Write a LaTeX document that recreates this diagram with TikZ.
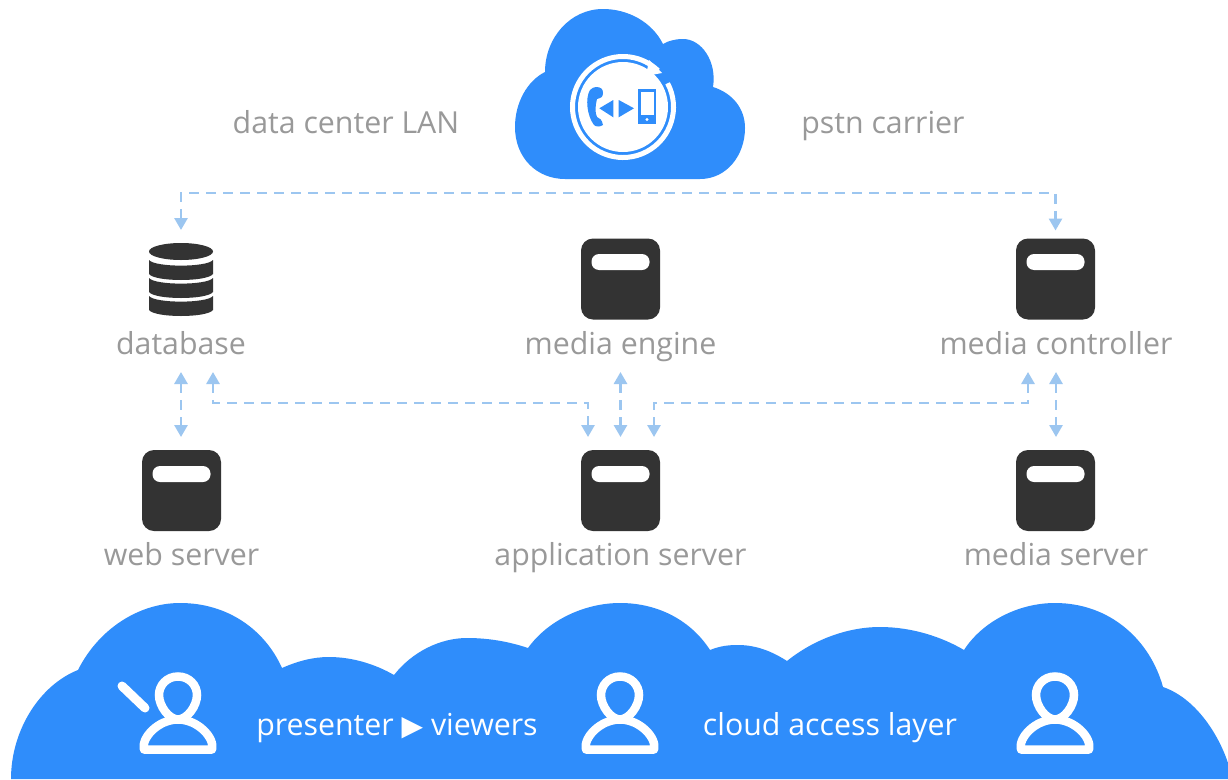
\documentclass[tikz,border=0pt]{standalone}
\usepackage{fontspec}
\setmainfont{Open Sans}
\newfontfamily\symfont{DejaVu Sans}
\usetikzlibrary{arrows.meta,calc}
\definecolor{cloudblue}{HTML}{2F8DFB}
\definecolor{linkblue}{HTML}{9CC6F0}
\definecolor{icondark}{HTML}{333333}
\definecolor{labelgrey}{HTML}{999999}
\tikzset{
  x=1pt,y=-1pt,
  serverbox/.style={fill=icondark,rounded corners=12pt,minimum width=79pt,minimum height=81pt,inner sep=0pt,outer sep=0pt},
  slot/.style={fill=white,rounded corners=7.5pt,minimum width=58pt,minimum height=16pt,inner sep=0pt,outer sep=0pt},
  lbl/.style={text=labelgrey,font=\fontsize{30.3}{31}\selectfont,text height=24pt,text depth=4pt,inner sep=0pt,outer sep=0pt},
  wlbl/.style={text=white,font=\fontsize{30.3}{31}\selectfont,text height=24pt,text depth=4pt,inner sep=0pt,outer sep=0pt},
  conn/.style={draw=linkblue,line width=2.7pt,dash pattern=on 10pt off 7pt,{Triangle[length=12pt,width=13pt]}-{Triangle[length=12pt,width=13pt]}},
  person/.pic={
    \draw[white,line width=8.5pt] (0,4.5) .. controls (11,4.5) and (19,13) .. (19,23) .. controls (19,34) and (9,47.5) .. (0,47.5) .. controls (-9,47.5) and (-19,34) .. (-19,23) .. controls (-19,13) and (-11,4.5) .. (0,4.5) -- cycle;
    \draw[white,line width=8.5pt,line join=round] (-34,77.5) -- (34,77.5) .. controls (37,66) and (20,47.5) .. (0,47.5) .. controls (-20,47.5) and (-37,66) .. (-34,77.5) -- cycle;
  }
}
\begin{document}
\begin{tikzpicture}
\useasboundingbox (0,0) rectangle (1228,779);
\fill[white] (0,0) rectangle (1228,779);
% top cloud
\fill[cloudblue] (565,179) -- (700,179) .. controls (727,179) and (745,155) .. (745,128) .. controls (745,108) and (732,93) .. (713,87) .. controls (717,62) and (702,39) .. (683,39) .. controls (675,39) and (668,41) .. (663,44) .. controls (652,22) and (628,9) .. (603,9) .. controls (570,9) and (545,38) .. (545,72) .. controls (527,81) and (515,103) .. (515,127) .. controls (515,158) and (537,179) .. (565,179) -- cycle;
% ring and disc
\fill[white] (623,107) circle (45);
\draw[white,line width=5pt] ($(623,107)+(-28:50.5)$) arc[start angle=-28,end angle=314,radius=50.5];
\fill[white] (649,60) -- (662,73) -- (646,76) -- cycle;
% handset
\fill[cloudblue] (596,87) .. controls (601,87) and (603,89) .. (603,93) .. controls (603,97) and (601,98) .. (597,99) .. controls (595,107) and (595,113) .. (597,117) .. controls (600,118) and (602,120) .. (603,125) .. controls (600,127) and (596,127) .. (594,125) .. controls (587,116) and (585,98) .. (590,90) .. controls (592,88) and (594,87) .. (596,87) -- cycle;
\fill[cloudblue] (599.3,108.3) -- (613.3,100) -- (613.3,117.3) -- cycle;
\fill[cloudblue] (634,108.3) -- (618.7,100) -- (618.7,117.3) -- cycle;
\fill[cloudblue] (638.3,89.3) rectangle (656,124);
\fill[white] (641,92) rectangle (654,115);
\fill[white] (647,119.5) circle (1.6);
\node[lbl] (lan) at (346,123) {data center LAN};
\node[lbl] (pstn) at (883,123) {pstn carrier};
% database
\node[minimum width=64pt,minimum height=71pt,inner sep=0pt,outer sep=0pt] (db) at (181,278.5) {};
\fill[icondark] (181,251.5) ellipse[x radius=32,y radius=8.5];
\foreach \yy in {260,278,296}{
  \fill[icondark] (149,\yy) .. controls (155,\yy+7.5) and (207,\yy+7.5) .. (213,\yy) -- (213,\yy+14) .. controls (207,\yy+22) and (155,\yy+22) .. (149,\yy+14) -- cycle;
}
\node[lbl] (dblbl) at (181,344) {database};
% servers
\node[serverbox] (engine) at (620.5,279) {};
\node[serverbox] (ctrl) at (1055.5,279) {};
\node[serverbox] (web) at (181.5,490.5) {};
\node[serverbox] (app) at (620.5,490.5) {};
\node[serverbox] (media) at (1055.5,490.5) {};
\node[slot] (s1) at (620.5,262) {};
\node[slot] (s2) at (1055.5,262) {};
\node[slot] (s3) at (181.5,474) {};
\node[slot] (s4) at (620.5,474) {};
\node[slot] (s5) at (1055.5,474) {};
\node[lbl] (englbl) at (620.5,344) {media engine};
\node[lbl] (ctrllbl) at (1056,344) {media controller};
\node[lbl] (weblbl) at (181.5,555) {web server};
\node[lbl] (applbl) at (620.5,555) {application server};
\node[lbl] (medialbl) at (1056,555) {media server};
% connectors
\coordinate (bus) at (620,193);
\coordinate (lanL) at (588,403);
\coordinate (lanR) at (654,403);
\path[conn,shorten <=13pt,shorten >=8pt,draw] (db.north) |- (bus) -| (ctrl.north);
\path[conn,draw,shorten <=14pt,shorten >=13pt] (dblbl.south) -- (dblbl.south |- web.north);
\path[conn,draw,shorten <=14pt,shorten >=13pt] (englbl.south) -- (englbl.south |- app.north);
\path[conn,draw,shorten <=14pt,shorten >=13pt] (ctrllbl.south) -- (ctrllbl.south |- media.north);
\path[conn,draw,shorten <=14pt,shorten >=13pt] ([xshift=32pt]dblbl.south) |- (lanL) -- (lanL |- app.north);
\path[conn,draw,shorten <=14pt,shorten >=13pt] ([xshift=-28pt]ctrllbl.south) |- (lanR) -- (lanR |- app.north);
% bottom cloud
\fill[cloudblue] (11,779) .. controls (11,730) and (40,685) .. (78,670) .. controls (98,630) and (138,603) .. (180,603) .. controls (228,603) and (265,630) .. (282,668) .. controls (298,661) and (313,657) .. (329,657) .. controls (352,657) and (375,664) .. (394,675) .. controls (412,652) and (440,638) .. (467,638) .. controls (490,638) and (510,642) .. (528,648) .. controls (548,620) and (585,603) .. (620,603) .. controls (660,603) and (692,622) .. (710,650) .. controls (720,646) and (728,645) .. (738,645) .. controls (757,645) and (773,652) .. (787,661) .. controls (813,640) and (847,627) .. (880,627) .. controls (912,627) and (942,637) .. (964,650) .. controls (982,622) and (1018,603) .. (1055,603) .. controls (1110,603) and (1150,640) .. (1163,687) .. controls (1195,698) and (1218,733) .. (1228,763) -- (1228,779) -- cycle;
\pic at (178,672) {person};
\pic at (620,672) {person};
\pic at (1055,672) {person};
\draw[white,line width=9pt,line cap=round] (122,686) -- (145,708);
\node[wlbl] (pv) at (397,725) {presenter {\symfont\fontsize{28}{28}\selectfont ▶} viewers};
\node[wlbl] (cal) at (830,725) {cloud access layer};
\end{tikzpicture}
\end{document}
